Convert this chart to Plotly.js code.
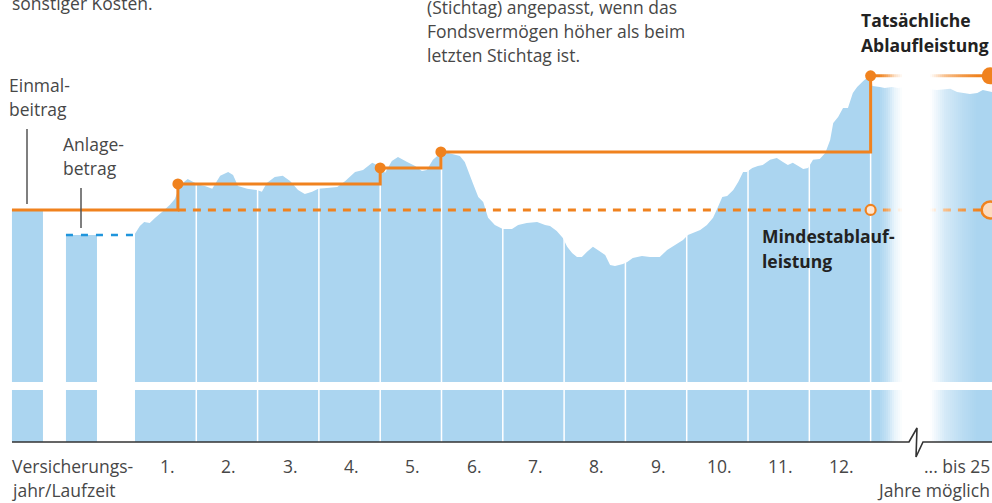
<!DOCTYPE html>
<html>
<head>
<meta charset="utf-8">
<script src="https://cdn.plot.ly/plotly-3.0.1.min.js"></script>
<style>html,body{margin:0;padding:0;background:#fff;}#chart{width:992px;height:503px;}</style>
</head>
<body>
<div id="chart"></div>
<script>
// ---------- data ----------
// x in insurance years (0 = start of year 1), y in % of the guaranteed value (100 = Mindestablaufleistung)
const fundX = [0,0.08,0.15,0.24,0.33,0.46,0.57,0.65,0.70,0.78,0.86,0.95,1.06,1.14,1.26,1.39,1.52,1.60,1.68,1.83,1.99,2.07,2.15,2.28,2.41,2.53,2.66,2.77,2.89,2.99,3.13,3.30,3.43,3.59,3.72,3.87,3.95,4.00,4.08,4.19,4.29,4.44,4.57,4.68,4.76,4.86,4.99,5.11,5.30,5.38,5.51,5.60,5.68,5.76,5.87,6.00,6.15,6.25,6.39,6.56,6.69,6.77,6.88,6.98,7.05,7.13,7.21,7.29,7.37,7.47,7.55,7.67,7.75,7.83,7.96,8.03,8.12,8.27,8.40,8.56,8.68,8.81,8.94,9.02,9.10,9.22,9.33,9.43,9.51,9.58,9.66,9.76,9.84,9.92,9.98,10.07,10.16,10.24,10.36,10.47,10.57,10.65,10.73,10.82,10.90,10.98,11.06,11.17,11.26,11.34,11.39,11.47,11.55,11.63,11.71,11.78,11.88,11.96,12.00,12.03,12.15,12.23,12.35,12.45,12.53,12.69,12.89,13.08,13.30,13.41,13.62,13.74,13.83,13.98];
const fundValue = [89.7,93.1,94.8,94.4,96.6,99.6,102.2,104.7,108.2,111.6,113.4,112.1,110.8,110.3,109.1,114.7,116.4,115.1,110.3,109.1,108.6,107.8,111.6,114.2,114.7,112.5,108.6,106.9,107.8,109.1,109.5,109.9,112.5,116.4,117.2,120.3,119.4,118.1,116.0,121.1,122.8,120.7,119.0,116.8,117.2,121.6,124.6,124.6,123.3,120.7,111.6,105.6,103.4,96.6,93.5,91.8,91.8,93.5,94.4,94.8,93.5,93.1,90.9,87.9,84.1,81.5,79.7,79.7,81.9,84.1,82.8,80.6,76.3,75.9,76.7,77.6,79.3,80.2,79.7,79.7,82.8,84.9,87.1,89.2,90.1,91.4,93.5,96.6,101.3,105.6,106.0,108.6,112.1,116.4,116.4,118.1,119.0,119.4,121.6,122.4,120.7,119.4,120.3,119.0,117.7,118.1,121.6,122.0,124.6,130.2,137.5,140.1,144.0,144.0,150.4,153.0,155.6,157.3,157.8,153.4,153.0,152.6,153.0,152.6,153.0,152.6,152.2,151.7,152.2,150.9,150.0,150.4,151.7,150.9];

// payment bars (Einmalbeitrag, Anlagebetrag)
const payLabels = ['Einmalbeitrag', 'Anlagebetrag'];
const payX = [-1.754, -0.873];
const payValue = [100, 89.2];

// guaranteed / locked-in levels (Stichtage)
const lockX = [-2.007, 0.70, 4.00, 4.99, 12.00, 13.95];
const lockValue = [100, 111.2, 118.1, 125.0, 157.8, 157.8];
const stichtagX = [0.70, 4.00, 4.99, 12.00];
const stichtagValue = [111.2, 118.1, 125.0, 157.8];

const minX = [0.70, 13.95];
const minValue = [100, 100];
const investLineX = [-1.126, -0.03];
const investLineValue = [89.2, 89.2];

const endX = 13.95;
const endActual = 157.8;
const endMinimum = 100;
const minMarkX = 12.00;

const yearBounds = [1,2,3,4,5,6,7,8,9,10,11,12];
const yearLabels = ['1.','2.','3.','4.','5.','6.','7.','8.','9.','10.','11.','12.'];

// ---------- styling ----------
const W = 992, H = 503;
const BLUE = '#abd5f0', ORANGE = '#f0821e', DBLUE = '#1f95dc', TXT = '#474747', BTXT = '#222222';
const FONT = '"Open Sans", sans-serif';
const FS = 17.5;
const px = x => x / W;
const py = y => 1 - y / H;

const gx = [], gy = [];
yearBounds.forEach(b => { gx.push(b, b, null); gy.push(0, 190, null); });

const traces = [
  {type:'bar', x: payX, y: payValue, width: 0.506, marker:{color: BLUE, line:{width:0}}, hoverinfo:'skip', name:'Zahlung', text: payLabels, textposition:'none'},
  {type:'scatter', x: fundX, y: fundValue, mode:'none', fill:'tozeroy', fillcolor: BLUE, hoverinfo:'skip'},
  {type:'scatter', x: gx, y: gy, mode:'lines', line:{color:'#ffffff', width:1.5}, hoverinfo:'skip', connectgaps:false},
  {type:'scatter', x: investLineX, y: investLineValue, mode:'lines', line:{color: DBLUE, width:2.5, dash:'7px,8px'}, hoverinfo:'skip'},
  {type:'scatter', x: minX, y: minValue, mode:'lines', line:{color: ORANGE, width:3, dash:'8px,7px'}, hoverinfo:'skip'},
  {type:'scatter', x: lockX, y: lockValue, mode:'lines', line:{color: ORANGE, width:3, shape:'hv'}, hoverinfo:'skip'},
  {type:'scatter', x: stichtagX, y: stichtagValue, mode:'markers', marker:{color: ORANGE, size:11, opacity:1}, hoverinfo:'skip'},
  {type:'scatter', x: [minMarkX], y: [endMinimum], mode:'markers', marker:{color:'#fde6d2', size:10, opacity:1, line:{color: ORANGE, width:2.2}}, hoverinfo:'skip'},
  {type:'scatter', x:[endX], y:[endMinimum], mode:'markers', cliponaxis:false,
   marker:{color:'#fcdcc0', size:17, opacity:1, line:{color: ORANGE, width:2.5}}, hoverinfo:'skip'},
  {type:'scatter', x:[endX], y:[endActual], mode:'markers', cliponaxis:false,
   marker:{color: ORANGE, size:17, opacity:1, line:{color: ORANGE, width:0}}, hoverinfo:'skip'}
];

function ann(text, x, y, opts) {
  return Object.assign({text: text, xref:'paper', yref:'paper', x: px(x), y: py(y), xanchor:'left', yanchor:'middle',
    showarrow:false, font:{family: FONT, size: FS, color: TXT}}, opts || {});
}
const BF = {family: FONT, size: FS, color: BTXT};
const annotations = [
  ann('sonstiger Kosten.', 10, 3),
  ann('(Stichtag) angepasst, wenn das', 425, 7),
  ann('Fondsvermögen höher als beim', 425, 31),
  ann('letzten Stichtag ist.', 425, 55),
  ann('<b>Tatsächliche</b>', 859, 20, {font: BF}),
  ann('<b>Ablaufleistung</b>', 859, 45, {font: BF}),
  ann('Einmal-', 7, 85),
  ann('beitrag', 7, 109),
  ann('Anlage-', 61, 144),
  ann('betrag', 61, 168),
  ann('<b>Mindestablauf-</b>', 760, 236, {font: BF}),
  ann('<b>leistung</b>', 760, 261, {font: BF}),
  ann('Versicherungs-', 10, 466),
  ann('jahr/Laufzeit', 10, 490),
  ann('... bis 25', 992, 466, {xanchor:'right'}),
  ann('Jahre möglich', 992, 490, {xanchor:'right'})
];
yearBounds.forEach((b, i) => {
  annotations.push({text: yearLabels[i], xref:'x', yref:'paper', x: b - 0.5, xshift: 2, y: py(466), xanchor:'center', yanchor:'middle',
    showarrow:false, font:{family: FONT, size: FS, color: TXT}});
});

// white fade for the "... bis 25 Jahre" section (pixel position, white opacity)
const fadeStops = [[871,0],[879,0],[887,0.3],[895,0.75],[903,1],[930,1],[945,0.5],[963,0.18],[978,0],[992,0]];
function fadeAt(x) {
  for (let i = 1; i < fadeStops.length; i++) {
    const a = fadeStops[i-1], b = fadeStops[i];
    if (x <= b[0]) return a[1] + (b[1]-a[1]) * (x - a[0]) / (b[0]-a[0]);
  }
  return 0;
}
const shapes = [];
for (let x = 872; x < 990; x += 2) {
  const o = fadeAt(x + 1);
  if (o <= 0.005) continue;
  shapes.push({type:'rect', xref:'paper', yref:'paper', x0: px(x), x1: px(x + 2), y0: py(442), y1: py(62),
    fillcolor:'#ffffff', opacity: o, line:{width:0}, layer:'above'});
}

const P = (x, y) => px(x).toFixed(5) + ',' + py(y).toFixed(5);
shapes.push(
  {type:'rect', xref:'paper', yref:'paper', x0: px(10), x1: 1, y0: py(390), y1: py(382), fillcolor:'#ffffff', line:{width:0}, layer:'above'},
  {type:'line', xref:'paper', yref:'paper', x0: px(27), x1: px(27), y0: py(129), y1: py(204), line:{color:'#555555', width:1.5}, layer:'above'},
  {type:'line', xref:'paper', yref:'paper', x0: px(81), x1: px(81), y0: py(188), y1: py(228), line:{color:'#555555', width:1.5}, layer:'above'},
  {type:'path', xref:'paper', yref:'paper', layer:'above', line:{color:'#333333', width:1.6},
   path: 'M' + P(12,442) + 'L' + P(909,442) + 'L' + P(917,428) + 'L' + P(916,457) + 'L' + P(923,442) + 'L' + P(992,442)}
);

const layout = {
  width: W, height: H, margin:{l:0, r:0, t:0, b:0, pad:0},
  paper_bgcolor:'#ffffff', plot_bgcolor:'#ffffff',
  xaxis:{range:[-2.202, 13.98], visible:false, fixedrange:true},
  yaxis:{range:[-26.3, 190.5], visible:false, fixedrange:true},
  showlegend:false, hovermode:false, barmode:'overlay',
  annotations: annotations, shapes: shapes
};
Plotly.newPlot('chart', traces, layout, {displayModeBar:false, staticPlot:true});
</script>
</body>
</html>
